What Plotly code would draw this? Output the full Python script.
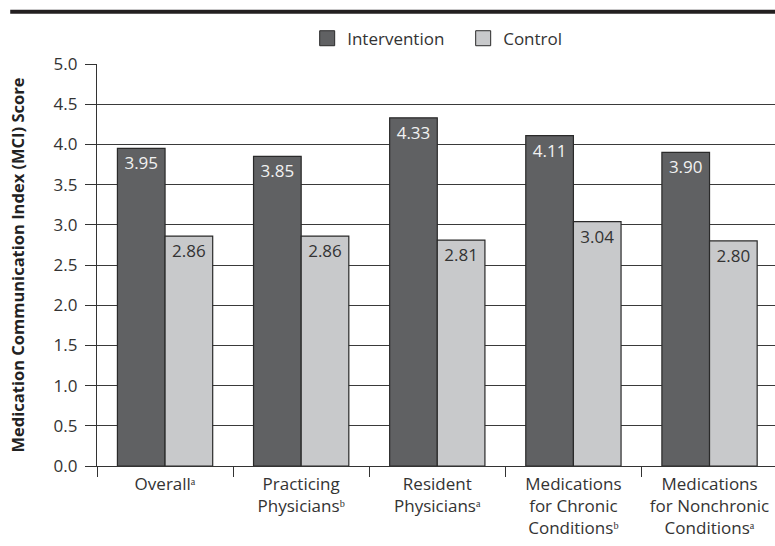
import plotly.graph_objects as go

categories = [
    "Overallᵃ",
    "Practicing<br>Physiciansᵇ",
    "Resident<br>Physiciansᵃ",
    "Medications<br>for Chronic<br>Conditionsᵇ",
    "Medications<br>for Nonchronic<br>Conditionsᵃ",
]
intervention = [3.95, 3.85, 4.33, 4.11, 3.90]
control = [2.86, 2.86, 2.81, 3.04, 2.80]
y_ticks = [0.0, 0.5, 1.0, 1.5, 2.0, 2.5, 3.0, 3.5, 4.0, 4.5, 5.0]
series_names = ["Intervention", "Control"]

FONT = "Open Sans"
DARK = "#606163"
LIGHT = "#c8c9cb"
EDGE = "#2a2a2a"

fig = go.Figure()
fig.add_trace(go.Bar(
    name=series_names[0], x=categories, y=intervention, showlegend=False,
    marker=dict(color=DARK, line=dict(color=EDGE, width=1.2)),
    text=[f"{v:.2f}" for v in intervention], textposition="inside",
    insidetextanchor="end",
    textfont=dict(family=FONT, size=17, color="#f2f2f2"),
))
fig.add_trace(go.Bar(
    name=series_names[1], x=categories, y=control, showlegend=False,
    marker=dict(color=LIGHT, line=dict(color=EDGE, width=1.2)),
    text=[f"{v:.2f}" for v in control], textposition="inside",
    insidetextanchor="end",
    textfont=dict(family=FONT, size=17, color="#333333"),
))
# legend entries (square swatches)
for nm, col in zip(series_names, [DARK, LIGHT]):
    fig.add_trace(go.Scatter(
        name=nm, x=[None], y=[None], mode="markers",
        marker=dict(symbol="square", size=15, color=col, line=dict(color=EDGE, width=1)),
    ))

fig.update_layout(
    width=775, height=546,
    margin=dict(l=97, r=0, t=64, b=80),
    paper_bgcolor="white", plot_bgcolor="white",
    barmode="group", bargap=0.3, bargroupgap=0,
    font=dict(family=FONT, size=17, color="#333333"),
    showlegend=True,
    legend=dict(orientation="h", x=0.31, xanchor="left", y=1.063, yanchor="middle",
                font=dict(family=FONT, size=17, color="#333333"),
                itemwidth=30, traceorder="normal", tracegroupgap=0,
                entrywidth=111, entrywidthmode="pixels"),
    uniformtext=dict(mode="show", minsize=17),
)
fig.update_xaxes(
    range=[-0.5, 4.481], tickson="boundaries", ticks="outside", ticklen=10,
    tickcolor="#333333", tickwidth=1.2, showgrid=False,
    showline=True, linecolor="#333333", linewidth=1.2,
    tickfont=dict(family=FONT, size=17, color="#333333"),
    ticklabelstandoff=2,
)
fig.update_yaxes(
    range=[0, 5], tickvals=y_ticks, ticktext=[f"{v:.1f}" for v in y_ticks],
    ticks="outside", ticklen=11, tickcolor="#333333", tickwidth=1.2,
    showgrid=True, gridcolor="#3a3a3a", gridwidth=1.3,
    showline=True, linecolor="#333333", linewidth=1.2,
    tickfont=dict(family=FONT, size=17, color="#333333"),
    ticklabelstandoff=4,
    title=dict(text="<b>Medication Communication Index (MCI) Score</b>",
               font=dict(family=FONT, size=16.5, color="#222222"), standoff=24),
    zeroline=False,
)
fig.add_shape(type="line", xref="paper", yref="paper",
              x0=-0.128, x1=1.0, y0=1.13, y1=1.13,
              line=dict(color="#231f20", width=4))

fig.write_html("out.html")
